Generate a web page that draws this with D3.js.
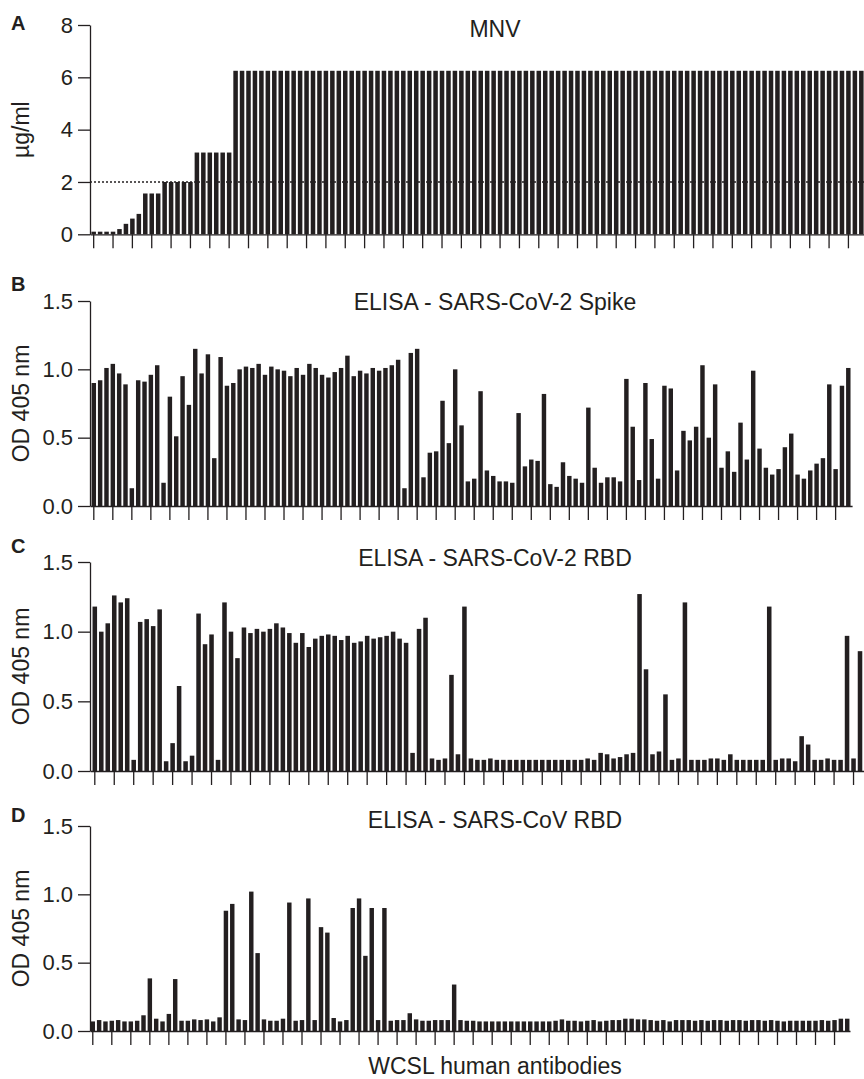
<!DOCTYPE html>
<html><head><meta charset="utf-8">
<script src="https://cdn.jsdelivr.net/npm/d3@7"></script>
<style>
body{margin:0;background:#fff}
svg{display:block}
text{font-family:'Liberation Sans',Arial,Helvetica,sans-serif;fill:#231f20}
</style>
</head><body>
<svg id="chart" width="864" height="1079"></svg>
<script>
// ---------------- data ----------------
const antibodies = d3.range(1, 121).map(i => "WCSL-" + i);

const mnvValues = [
  0.1,0.1,0.1,0.1,0.2,0.4,0.6,0.78,1.56,1.56,1.56,2,2,2,2,2,
  3.125,3.125,3.125,3.125,3.125,3.125,
  ...Array(98).fill(6.25)
];

const spikeValues = [
  0.90,0.92,1.01,1.04,0.97,0.89,0.13,0.92,0.91,0.96,
  1.03,0.17,0.80,0.51,0.95,0.74,1.15,0.97,1.11,0.35,
  1.09,0.88,0.90,1.00,1.02,1.01,1.04,0.96,1.02,1.00,
  0.99,0.95,1.01,0.96,1.04,1.01,0.96,0.94,0.98,1.01,
  1.10,0.95,0.99,0.97,1.01,0.99,1.01,1.03,1.07,0.13,
  1.12,1.15,0.21,0.39,0.40,0.77,0.46,1.00,0.59,0.18,
  0.20,0.84,0.26,0.22,0.18,0.18,0.17,0.68,0.29,0.34,
  0.33,0.82,0.16,0.14,0.32,0.22,0.20,0.17,0.72,0.28,
  0.17,0.21,0.21,0.18,0.93,0.58,0.19,0.90,0.49,0.20,
  0.88,0.86,0.26,0.55,0.48,0.58,1.03,0.50,0.89,0.28,
  0.40,0.25,0.61,0.34,0.99,0.42,0.28,0.23,0.27,0.43,
  0.53,0.23,0.20,0.26,0.31,0.35,0.89,0.27,0.88,1.01
];

const rbd2Values = [
  1.18,1.00,1.06,1.26,1.21,1.24,0.08,1.07,1.09,1.04,
  1.16,0.07,0.20,0.61,0.07,0.11,1.13,0.91,0.98,0.08,
  1.21,1.00,0.81,1.03,0.99,1.02,1.00,1.02,1.06,1.03,
  0.99,0.92,0.99,0.89,0.95,0.97,0.98,0.97,0.94,0.97,
  0.92,0.93,0.97,0.95,0.96,0.97,1.00,0.95,0.92,0.13,
  1.02,1.10,0.09,0.08,0.09,0.69,0.12,1.18,0.09,0.08,
  0.08,0.09,0.08,0.08,0.08,0.08,0.08,0.08,0.08,0.08,
  0.08,0.08,0.08,0.08,0.08,0.08,0.09,0.08,0.13,0.12,
  0.09,0.10,0.12,0.13,1.27,0.73,0.12,0.14,0.55,0.08,
  0.09,1.21,0.08,0.08,0.08,0.09,0.09,0.08,0.12,0.08,
  0.08,0.08,0.08,0.08,1.18,0.08,0.09,0.09,0.07,0.25,
  0.19,0.08,0.08,0.09,0.08,0.08,0.97,0.09,0.86,0.95
];

const rbd1Values = [
  0.07,0.08,0.07,0.075,0.08,0.07,0.07,0.075,0.115,0.385,
  0.09,0.07,0.125,0.38,0.075,0.075,0.085,0.08,0.085,0.07,
  0.10,0.88,0.93,0.085,0.08,1.02,0.57,0.085,0.075,0.075,
  0.09,0.94,0.075,0.08,0.97,0.08,0.76,0.72,0.095,0.07,
  0.08,0.90,0.97,0.55,0.90,0.08,0.90,0.075,0.08,0.08,
  0.13,0.085,0.075,0.075,0.08,0.08,0.08,0.34,0.08,0.075,
  0.075,0.07,0.07,0.07,0.07,0.07,0.07,0.07,0.07,0.07,
  0.07,0.07,0.07,0.075,0.085,0.075,0.075,0.07,0.075,0.08,
  0.07,0.075,0.08,0.08,0.09,0.09,0.085,0.085,0.08,0.075,
  0.08,0.07,0.08,0.08,0.08,0.075,0.08,0.075,0.08,0.08,
  0.075,0.08,0.08,0.075,0.08,0.08,0.075,0.08,0.075,0.07,
  0.075,0.075,0.075,0.075,0.075,0.08,0.075,0.08,0.09,0.09
];

const mnvTicks = [0, 2, 4, 6, 8];
const odTicks = [0, 0.5, 1.0, 1.5];
const mnvThreshold = 2;
const panelLetters = ["A", "B", "C", "D"];
const panelTitles = ["MNV", "ELISA - SARS-CoV-2 Spike", "ELISA - SARS-CoV-2 RBD", "ELISA - SARS-CoV RBD"];
const yTitles = ["µg/ml", "OD 405 nm", "OD 405 nm", "OD 405 nm"];
const xTitle = "WCSL human antibodies";

// ---------------- layout ----------------
const ink = "#231f20";
const panels = [
  {values: mnvValues,  ticks: mnvTicks, max: 8,   fmt: d3.format("d"),
   x0: 90, x1: 865,   outer: 0.22, y0: 234.3, y1: 25,  letterY: 30,  titleY: 36.7},
  {values: spikeValues, ticks: odTicks, max: 1.5, fmt: d3.format(".1f"),
   x0: 90, x1: 852.1, outer: 0.25, y0: 506,   y1: 301, letterY: 291, titleY: 310},
  {values: rbd2Values,  ticks: odTicks, max: 1.5, fmt: d3.format(".1f"),
   x0: 90, x1: 871.3, outer: 0.39, y0: 771,   y1: 562, letterY: 553, titleY: 566},
  {values: rbd1Values,  ticks: odTicks, max: 1.5, fmt: d3.format(".1f"),
   x0: 90, x1: 850,   outer: 0.09, y0: 1031,  y1: 826, letterY: 822, titleY: 828}
];

const svg = d3.select("#chart");

panels.forEach((p, k) => {
  const g = svg.append("g");
  const x = d3.scaleBand().domain(antibodies).range([p.x0, p.x1])
              .paddingInner(0.3).paddingOuter(p.outer);
  const y = d3.scaleLinear().domain([0, p.max]).range([p.y0, p.y1]);

  g.selectAll("rect.bar").data(p.values).join("rect")
    .attr("class", "bar")
    .attr("x", (d, i) => x(antibodies[i]))
    .attr("width", x.bandwidth())
    .attr("y", d => y(d))
    .attr("height", d => y(0) - y(d))
    .attr("fill", ink);

  if (k === 0) {
    g.append("line")
      .attr("x1", p.x0).attr("x2", p.x1)
      .attr("y1", y(mnvThreshold)).attr("y2", y(mnvThreshold))
      .attr("stroke", ink).attr("stroke-width", 1.6)
      .attr("stroke-dasharray", "2,2");
  }

  // y axis
  const ya = g.append("g").attr("transform", `translate(${p.x0},0)`)
    .call(d3.axisLeft(y).tickValues(p.ticks).tickFormat(p.fmt)
            .tickSize(12).tickSizeOuter(0).tickPadding(5));
  ya.selectAll("path,line").attr("stroke", ink).attr("stroke-width", 1.3);
  ya.selectAll("text").attr("font-size", 22).attr("fill", ink)
    .attr("font-family", "'Liberation Sans',Arial,sans-serif");

  // x axis
  const tickIds = antibodies.filter((d, i) => i % 3 === 0);
  const xa = g.append("g").attr("transform", `translate(0,${p.y0})`)
    .call(d3.axisBottom(x).tickValues(tickIds).tickFormat("")
            .tickSize(14).tickSizeOuter(0));
  xa.selectAll("path,line").attr("stroke", ink).attr("stroke-width", 1.3);

  // labels
  g.append("text").attr("x", 11).attr("y", p.letterY)
    .attr("font-size", 20).attr("font-weight", "bold").text(panelLetters[k]);
  g.append("text").attr("x", 495).attr("y", p.titleY)
    .attr("text-anchor", "middle").attr("font-size", 23).text(panelTitles[k]);
  g.append("text")
    .attr("transform", `translate(29,${(p.y0 + p.y1) / 2}) rotate(-90)`)
    .attr("text-anchor", "middle").attr("font-size", 23).text(yTitles[k]);
});

svg.append("text").attr("x", 495).attr("y", 1074)
  .attr("text-anchor", "middle").attr("font-size", 23).text(xTitle);
</script>
</body></html>
